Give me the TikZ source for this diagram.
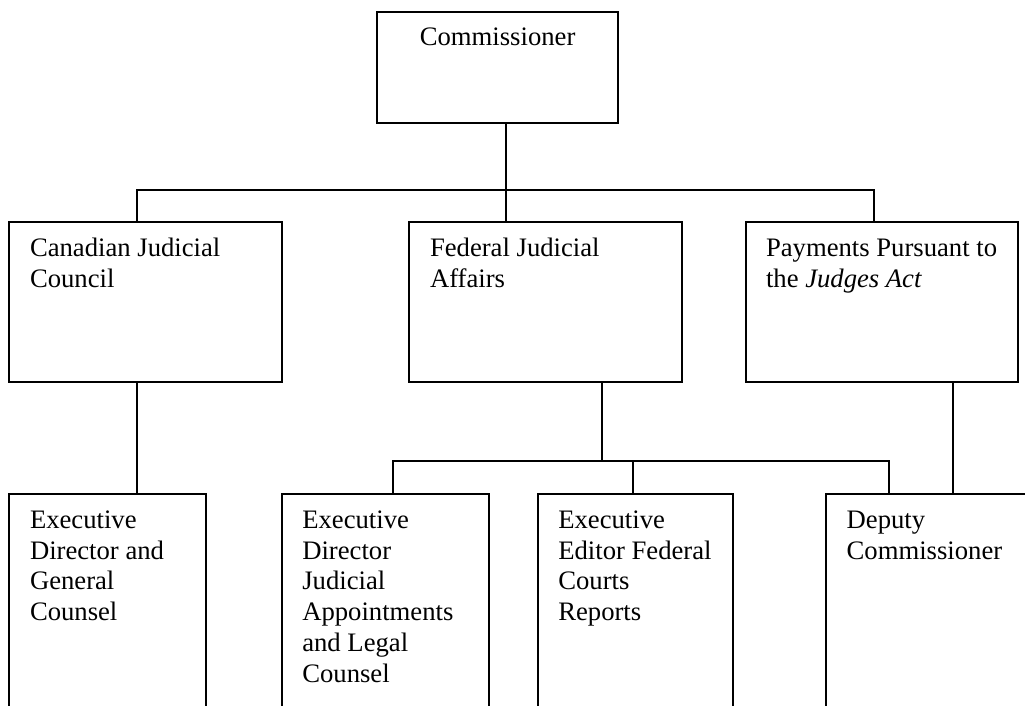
\documentclass[tikz,border=0pt]{standalone}
\usepackage{fontspec}
\setmainfont{Liberation Serif}
\begin{document}
\begin{tikzpicture}[x=0.75pt,y=-0.75pt,
  box/.style 2 args={draw, rectangle, line width=1.4pt, inner sep=0pt, outer sep=0pt,
    minimum width=#1*0.75pt, minimum height=#2*0.75pt, anchor=north west},
  lbl/.style={inner sep=0pt, outer sep=0pt, font=\fontsize{20}{23.1}\selectfont, align=left, anchor=north west},
  conn/.style={draw, line width=1.4pt}]
\clip (0,0) rectangle (1025,706);
% boxes
\node[box={240.7}{111}] (comm) at (377.3,11.7) {};
\node[box={273}{159.4}] (cjc) at (9.3,222.3) {};
\node[box={273}{159.4}] (fja) at (409.3,222.3) {};
\node[box={272}{159.4}] (ppj) at (745.7,222.3) {};
\node[box={196.4}{240}] (edgc) at (9.3,493.8) {};
\node[box={207.3}{240}] (edja) at (281.7,493.8) {};
\node[box={195.6}{240}] (eefc) at (537.7,493.8) {};
\node[box={205}{240}] (dc) at (825.7,493.8) {};
% texts (anchor at top of first-line strut = baseline - 21.56px)
\node[lbl, anchor=north] (tcomm) at (497.6,24.1) {\strut Commissioner};
\node[lbl] (tcjc) at (30,235.1) {\strut Canadian Judicial\\Council};
\node[lbl] (tfja) at (430,235.1) {\strut Federal Judicial\\Affairs};
\node[lbl] (tppj) at (766,235.1) {\strut Payments Pursuant to\\the \textit{Judges Act}};
\node[lbl] (tedgc) at (30,506.7) {\strut Executive\\Director and\\General\\Counsel};
\node[lbl] (tedja) at (302.3,506.7) {\strut Executive\\Director\\Judicial\\Appointments\\and Legal\\Counsel};
\node[lbl] (teefc) at (558.3,506.7) {\strut Executive\\Editor Federal\\Courts\\Reports};
\node[lbl] (tdc) at (846.7,506.7) {\strut Deputy\\Commissioner};
% junctions
\coordinate (j0) at (506,190);
\coordinate (jL) at (137.3,190);
\coordinate (jR) at (874,190);
\coordinate (m0) at (601.7,461);
\coordinate (m1) at (393.3,461);
\coordinate (m2) at (633.3,461);
\coordinate (m3) at (889.3,461);
\coordinate (r0) at (953.3,400);
% connectors
\draw[conn] (comm.south -| j0) -- (fja.north -| j0);
\draw[conn] (cjc.north -| jL) -- (jL) -- (jR) -- (ppj.north -| jR);
\draw[conn] (cjc.south -| jL) -- (edgc.north -| jL);
\draw[conn] (fja.south -| m0) -- (m0);
\draw[conn] (edja.north -| m1) -- (m1) -- (m3) -- (dc.north -| m3);
\draw[conn] (m2) -- (eefc.north -| m2);
\draw[conn] (ppj.south -| r0) -- (dc.north -| r0);
\end{tikzpicture}
\end{document}
